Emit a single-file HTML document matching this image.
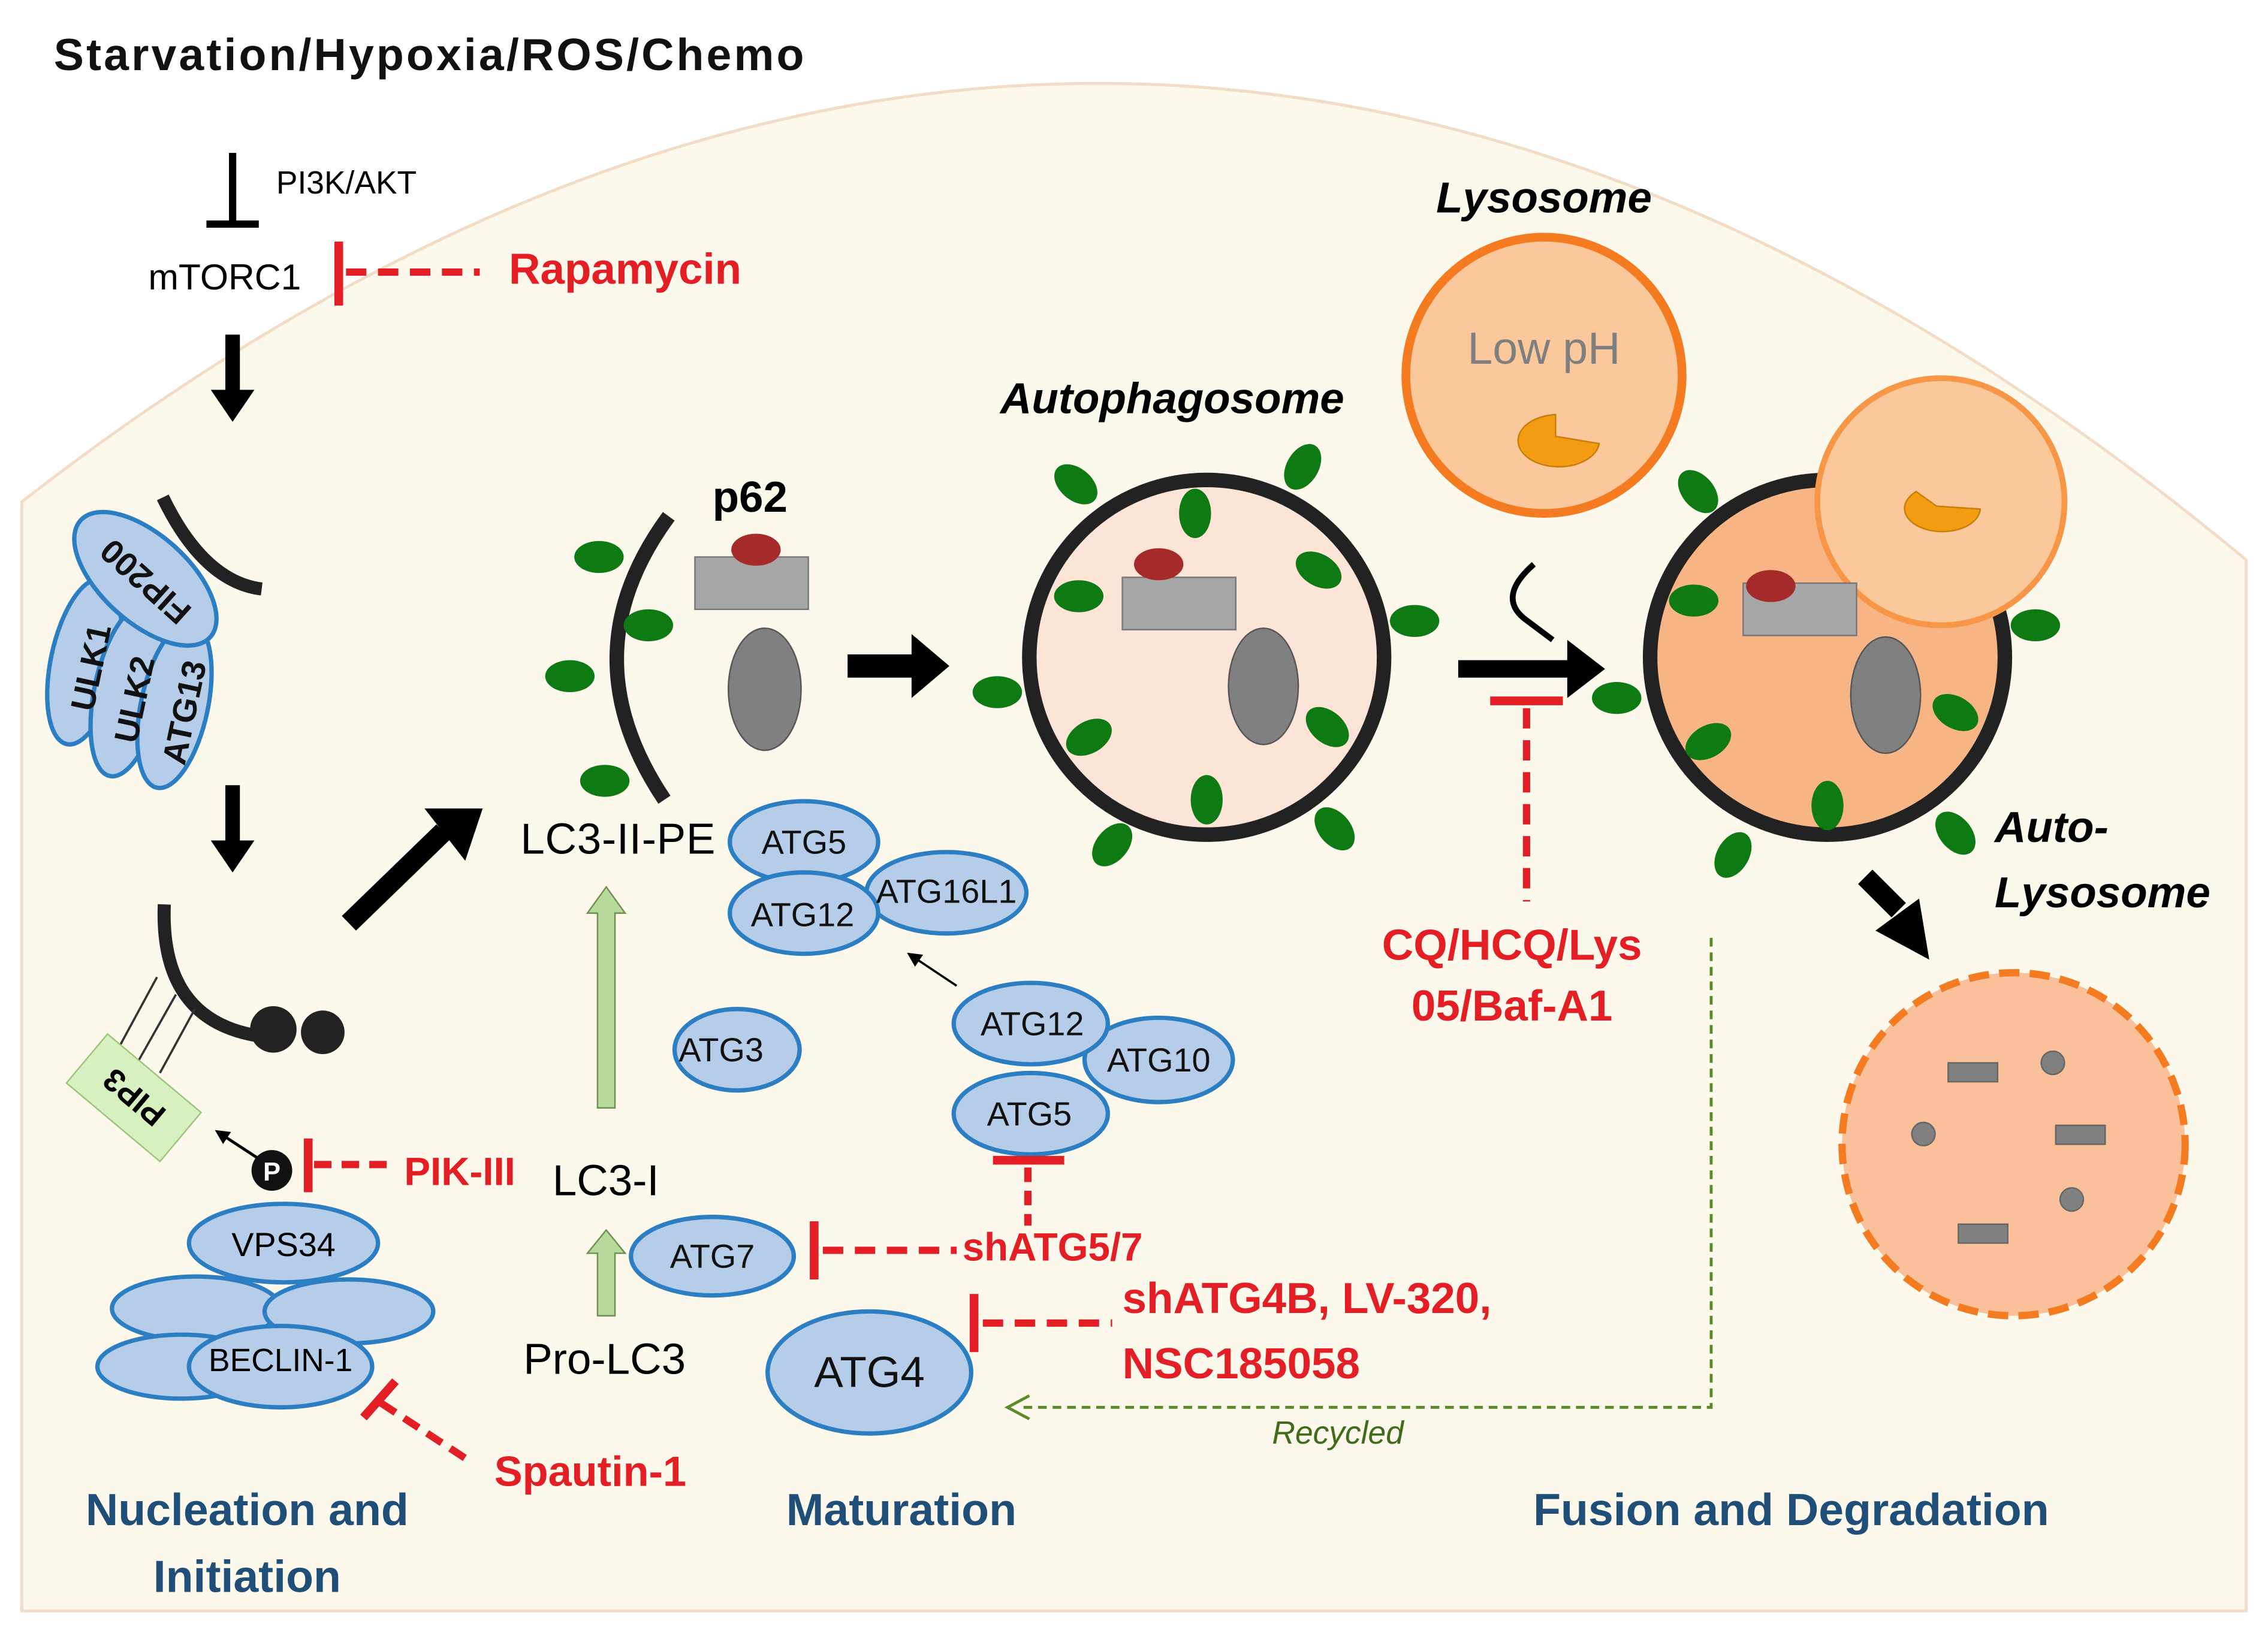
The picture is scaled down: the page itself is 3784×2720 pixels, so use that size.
<!DOCTYPE html>
<html><head><style>html,body{margin:0;padding:0;background:#fff}svg{display:block}</style></head><body>
<svg width="3784" height="2720" viewBox="0 0 1560 1121" xmlns="http://www.w3.org/2000/svg" font-family="Liberation Sans, sans-serif">
<defs>
<marker id="ah" markerWidth="10" markerHeight="10" refX="5" refY="5" orient="auto" markerUnits="userSpaceOnUse"><path d="M0,0 L10,5 L0,10 z" fill="#000"/></marker>
</defs>
<rect width="1560" height="1121" fill="#fff"/>
<path d="M15,345 Q780,-250 1545,385 L1545,1108 L15,1108 Z" fill="#fdf8ec" stroke="#f3dcc6" stroke-width="2"/>
<text x="37" y="48" font-size="31" font-weight="bold" fill="#111" textLength="516">Starvation/Hypoxia/ROS/Chemo</text>
<path d="M160,105 V152 M142,154 H178" stroke="#000" stroke-width="5"/>
<text x="190" y="133" font-size="22">PI3K/AKT</text>
<text x="102" y="199" font-size="25">mTORC1</text>
<path d="M233,166 V210" stroke="#e31e24" stroke-width="6"/>
<path d="M238,187 H330" stroke="#e31e24" stroke-width="5" stroke-dasharray="14,8"/>
<text x="350" y="195" font-size="30" font-weight="bold" fill="#e31e24">Rapamycin</text>
<path d="M155,230 h10 v38 h10 l-15,22 l-15,-22 h10 z" fill="#000"/>
<path d="M155,540 h10 v38 h10 l-15,22 l-15,-22 h10 z" fill="#000"/>
<path d="M112,342 Q140,400 180,405" fill="none" stroke="#222" stroke-width="9"/>
<g fill="#b5cde8" stroke="#2b7ec1" stroke-width="3">
<ellipse cx="58" cy="455" rx="23" ry="58" transform="rotate(12 58 455)"/>
<ellipse cx="88" cy="475" rx="23" ry="60" transform="rotate(12 88 475)"/>
<ellipse cx="120" cy="485" rx="23" ry="58" transform="rotate(12 120 485)"/>
<ellipse cx="100" cy="398" rx="30" ry="60" transform="rotate(-48 100 398)"/>
</g>
<g font-size="23" font-weight="bold" fill="#111">
<text transform="translate(64,490) rotate(-78)">ULK1</text>
<text transform="translate(94,512) rotate(-78)">ULK2</text>
<text transform="translate(127,527) rotate(-78)">ATG13</text>
<text transform="translate(100,400) rotate(222)" text-anchor="middle" dy="8">FIP200</text>
</g>
<path d="M113,622 Q110,700 175,712" fill="none" stroke="#222" stroke-width="9"/>
<circle cx="188" cy="708" r="16" fill="#222"/><circle cx="222" cy="710" r="15" fill="#222"/>
<path d="M108,672 L82,720 M121,684 L95,730 M134,694 L110,738" stroke="#333" stroke-width="1.5"/>
<g transform="translate(92,755) rotate(40)"><rect x="-42" y="-22" width="84" height="44" fill="#d7f0bf" stroke="#9bc47a"/><text x="0" y="8" font-size="22" font-weight="bold" text-anchor="middle" transform="rotate(180)">PIP3</text></g>
<path d="M240,635 L305,572" stroke="#000" stroke-width="14"/><path d="M292,556 L332,556 L320,592 z" fill="#000"/>
<path d="M178,797 L152,780" stroke="#000" stroke-width="2" marker-end="url(#ah)"/>
<circle cx="187" cy="805" r="14" fill="#111"/><text x="187" y="812" font-size="18" font-weight="bold" fill="#fff" text-anchor="middle">P</text>
<path d="M212,783 V820" stroke="#e31e24" stroke-width="6"/>
<path d="M216,801 H272" stroke="#e31e24" stroke-width="5" stroke-dasharray="12,7"/>
<text x="278" y="815" font-size="27" font-weight="bold" fill="#e31e24">PIK-III</text>
<g fill="#b5cde8" stroke="#2b7ec1" stroke-width="3">
<ellipse cx="135" cy="900" rx="58" ry="22"/><ellipse cx="240" cy="902" rx="58" ry="22"/>
<ellipse cx="125" cy="940" rx="58" ry="22"/>
<ellipse cx="195" cy="855" rx="65" ry="27"/>
<ellipse cx="193" cy="940" rx="63" ry="28"/>
</g>
<text x="195" y="864" font-size="23" text-anchor="middle">VPS34</text>
<text x="193" y="943" font-size="22" text-anchor="middle">BECLIN-1</text>
<path d="M250,975 L272,950" stroke="#e31e24" stroke-width="6"/>
<path d="M262,965 L320,1003" stroke="#e31e24" stroke-width="5" stroke-dasharray="12,7"/>
<text x="340" y="1022" font-size="29" font-weight="bold" fill="#e31e24">Spautin-1</text>
<text x="170" y="1049" font-size="31" font-weight="bold" fill="#1f4e79" text-anchor="middle">Nucleation and</text>
<text x="170" y="1095" font-size="31" font-weight="bold" fill="#1f4e79" text-anchor="middle">Initiation</text>
<path d="M460,355 Q390,450 457,550" fill="none" stroke="#222" stroke-width="10"/>
<g fill="#0e7a13"><ellipse cx="412" cy="383" rx="17" ry="11"/><ellipse cx="446" cy="430" rx="17" ry="11"/><ellipse cx="392" cy="465" rx="17" ry="11"/><ellipse cx="416" cy="537" rx="17" ry="11"/></g>
<text x="490" y="352" font-size="30" font-weight="bold">p62</text>
<rect x="478" y="383" width="78" height="36" fill="#a6a6a6" stroke="#777"/>
<ellipse cx="520" cy="378" rx="17" ry="11" fill="#a52a2a"/>
<ellipse cx="526" cy="474" rx="25" ry="42" fill="#808080" stroke="#555"/>
<path d="M583,450 h44 v-14 l26,22 l-26,22 v-14 h-44 z" fill="#000"/>
<text x="358" y="587" font-size="30" textLength="134">LC3-II-PE</text>
<path d="M411,762 V628 h-7 l13,-18 l13,18 h-7 V762 z" fill="#b7d99b" stroke="#6e8f4f"/>
<path d="M411,905 V862 h-7 l13,-16 l13,16 h-7 V905 z" fill="#b7d99b" stroke="#6e8f4f"/>
<text x="380" y="822" font-size="30">LC3-I</text>
<text x="360" y="945" font-size="30">Pro-LC3</text>
<g fill="#b5cde8" stroke="#2b7ec1" stroke-width="3">
<ellipse cx="651" cy="614" rx="55" ry="28"/>
<ellipse cx="553" cy="579" rx="51" ry="28"/>
<ellipse cx="553" cy="628" rx="51" ry="28"/>
<ellipse cx="507" cy="722" rx="43" ry="28"/>
<ellipse cx="797" cy="729" rx="51" ry="29"/>
<ellipse cx="709" cy="704" rx="53" ry="28"/>
<ellipse cx="709" cy="766" rx="53" ry="28"/>
<ellipse cx="490" cy="864" rx="56" ry="27"/>
<ellipse cx="598" cy="944" rx="70" ry="42"/>
</g>
<g font-size="23" text-anchor="middle" fill="#111">
<text x="553" y="587">ATG5</text><text x="552" y="637">ATG12</text><text x="651" y="621">ATG16L1</text>
<text x="496" y="730">ATG3</text><text x="710" y="712">ATG12</text><text x="797" y="737">ATG10</text><text x="708" y="774">ATG5</text>
<text x="490" y="872">ATG7</text><text x="598" y="954" font-size="30">ATG4</text>
</g>
<path d="M658,678 L628,658" stroke="#000" stroke-width="1.5" marker-end="url(#ah)"/>
<path d="M683,798 H732" stroke="#e31e24" stroke-width="6"/>
<path d="M707,803 V843" stroke="#e31e24" stroke-width="5" stroke-dasharray="10,6"/>
<path d="M560,840 V880" stroke="#e31e24" stroke-width="6"/>
<path d="M566,860 H658" stroke="#e31e24" stroke-width="5" stroke-dasharray="14,8"/>
<text x="662" y="867" font-size="27" font-weight="bold" fill="#e31e24">shATG5/7</text>
<path d="M670,890 V930" stroke="#e31e24" stroke-width="6"/>
<path d="M676,910 H765" stroke="#e31e24" stroke-width="5" stroke-dasharray="14,8"/>
<text x="772" y="903" font-size="30" font-weight="bold" fill="#e31e24">shATG4B,  LV-320,</text>
<text x="772" y="948" font-size="30" font-weight="bold" fill="#e31e24">NSC185058</text>
<text x="620" y="1049" font-size="31" font-weight="bold" fill="#1f4e79" text-anchor="middle">Maturation</text>
<text x="688" y="284" font-size="30" font-weight="bold" font-style="italic">Autophagosome</text>
<circle cx="830" cy="452" r="122" fill="#fce4d6" stroke="#222" stroke-width="10"/>
<g fill="#0e7a13">
<ellipse cx="740" cy="333" rx="17" ry="11" transform="rotate(40 740 333)"/><ellipse cx="822" cy="353" rx="11" ry="17"/><ellipse cx="896" cy="321" rx="11" ry="17" transform="rotate(30 896 321)"/><ellipse cx="907" cy="392" rx="17" ry="11" transform="rotate(30 907 392)"/><ellipse cx="973" cy="427" rx="17" ry="11"/><ellipse cx="742" cy="410" rx="17" ry="11"/><ellipse cx="686" cy="476" rx="17" ry="11"/><ellipse cx="749" cy="507" rx="17" ry="11" transform="rotate(-30 749 507)"/><ellipse cx="913" cy="500" rx="17" ry="11" transform="rotate(40 913 500)"/><ellipse cx="830" cy="550" rx="11" ry="17"/><ellipse cx="765" cy="581" rx="11" ry="17" transform="rotate(40 765 581)"/><ellipse cx="918" cy="570" rx="11" ry="17" transform="rotate(-40 918 570)"/>
</g>
<rect x="772" y="397" width="78" height="36" fill="#a6a6a6" stroke="#777"/>
<ellipse cx="797" cy="388" rx="17" ry="11" fill="#a52a2a"/>
<ellipse cx="869" cy="472" rx="24" ry="40" fill="#808080" stroke="#555"/>
<text x="1062" y="146" font-size="30" font-weight="bold" font-style="italic" text-anchor="middle">Lysosome</text>
<circle cx="1062" cy="258" r="95" fill="#fbc89c" stroke="#f47b20" stroke-width="6"/>
<text x="1062" y="250" font-size="31" fill="#7f7f7f" text-anchor="middle">Low pH</text>
<path d="M1070,285 A28,18 0 1,0 1100,305 L1070,300 z" fill="#f39c12" stroke="#c77d0a"/>
<path d="M1003,454 h75 v-14 l26,20 l-26,20 v-14 h-75 z" fill="#000"/>
<path d="M1055,388 Q1030,410 1048,425 L1068,440" fill="none" stroke="#000" stroke-width="4"/>
<path d="M1025,482 H1075" stroke="#e31e24" stroke-width="6"/>
<path d="M1050,487 V620" stroke="#e31e24" stroke-width="5" stroke-dasharray="14,8"/>
<text x="1040" y="660" font-size="30" font-weight="bold" fill="#e31e24" text-anchor="middle">CQ/HCQ/Lys</text>
<text x="1040" y="702" font-size="30" font-weight="bold" fill="#e31e24" text-anchor="middle">05/Baf-A1</text>
<circle cx="1257" cy="452" r="122" fill="#f7b585" stroke="#222" stroke-width="10"/>
<circle cx="1335" cy="345" r="85" fill="#fbc89c" stroke="#f79646" stroke-width="4"/>
<path d="M1318,338 A26,16 0 1,0 1362,350 L1332,348 z" fill="#f39c12" stroke="#c77d0a"/>
<g fill="#0e7a13">
<ellipse cx="1168" cy="338" rx="11" ry="17" transform="rotate(-40 1168 338)"/><ellipse cx="1165" cy="413" rx="17" ry="11"/><ellipse cx="1112" cy="480" rx="17" ry="11"/><ellipse cx="1175" cy="510" rx="17" ry="11" transform="rotate(-30 1175 510)"/><ellipse cx="1345" cy="490" rx="17" ry="11" transform="rotate(30 1345 490)"/><ellipse cx="1400" cy="430" rx="17" ry="11"/><ellipse cx="1257" cy="554" rx="11" ry="17"/><ellipse cx="1192" cy="588" rx="11" ry="17" transform="rotate(30 1192 588)"/><ellipse cx="1345" cy="573" rx="11" ry="17" transform="rotate(-40 1345 573)"/>
</g>
<rect x="1199" y="401" width="78" height="36" fill="#a6a6a6" stroke="#777"/>
<ellipse cx="1218" cy="403" rx="17" ry="11" fill="#a52a2a"/>
<ellipse cx="1297" cy="478" rx="24" ry="40" fill="#808080" stroke="#555"/>
<text x="1372" y="579" font-size="30" font-weight="bold" font-style="italic">Auto-</text>
<text x="1372" y="624" font-size="30" font-weight="bold" font-style="italic">Lysosome</text>
<path d="M1283,603 L1306,626" stroke="#000" stroke-width="14"/><path d="M1290,640 L1327,660 L1320,618 z" fill="#000"/>
<circle cx="1385" cy="787" r="118" fill="#f9c09a" stroke="#f47b20" stroke-width="5" stroke-dasharray="14,7"/>
<g fill="#808080" stroke="#666">
<rect x="1340" y="731" width="34" height="13"/><rect x="1414" y="774" width="34" height="13"/><rect x="1347" y="842" width="34" height="13"/>
<circle cx="1412" cy="731" r="8"/><circle cx="1323" cy="780" r="8"/><circle cx="1425" cy="825" r="8"/>
</g>
<path d="M1177,645 V968 H700" fill="none" stroke="#5b8a2a" stroke-width="2" stroke-dasharray="6,4"/>
<path d="M708,960 L693,968 L708,976" fill="none" stroke="#5b8a2a" stroke-width="2"/>
<text x="875" y="993" font-size="22" font-style="italic" fill="#3f6b1a">Recycled</text>
<text x="1232" y="1049" font-size="31" font-weight="bold" fill="#1f4e79" text-anchor="middle">Fusion and Degradation</text>
</svg>
</body></html>
